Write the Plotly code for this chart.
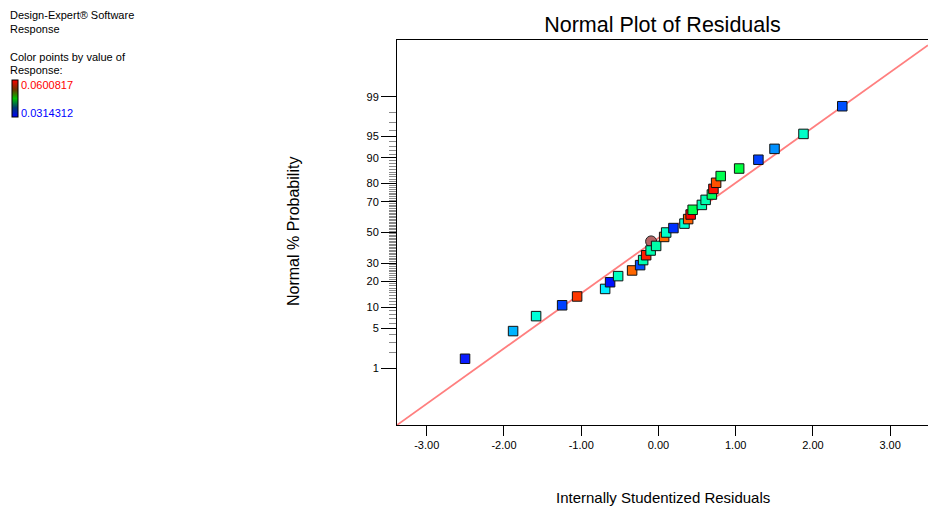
from statistics import NormalDist
import plotly.graph_objects as go

# ---------------- data ----------------
# internally studentized residuals, sorted
residuals = [-2.504, -1.882, -1.584, -1.247, -1.053, -0.690, -0.626, -0.522,
             -0.341, -0.237, -0.198, -0.159, -0.101, -0.030, -0.095, 0.074,
             0.100, 0.194, 0.337, 0.385, 0.417, 0.443, 0.562, 0.611,
             0.692, 0.712, 0.747, 0.806, 1.045, 1.294, 1.503, 1.878, 2.380]
# normal % probability of each residual
probability = [1.52, 4.55, 7.58, 10.61, 13.64, 16.67, 19.70, 22.73,
               25.76, 28.79, 31.82, 34.85, 37.88, 40.91, 43.94, 46.97,
               50.00, 53.03, 56.06, 59.09, 62.12, 65.15, 68.18, 71.21,
               74.24, 77.27, 80.30, 83.33, 86.36, 89.39, 92.42, 95.45, 98.48]
# colour of each point (coloured by value of Response)
point_colors = ["#0a1cff", "#00b4ff", "#00ffd8", "#0040ff", "#ff3800", "#00ecff",
                "#0010ff", "#00ffc0", "#ff6600", "#0050ff", "#00ffb0", "#ff2000",
                "#00ffb0", "#00ffa8", "#b46464", "#ff6a00", "#00ffc8", "#0030ff",
                "#00ffd0", "#ff6000", "#ff0000", "#00ff50", "#00ffb0", "#00ffb0",
                "#00ff60", "#ff1000", "#ff5000", "#00ff50", "#00ff40", "#0040ff",
                "#0090ff", "#00ffc8", "#0050ff"]
# the highlighted (selected) point is drawn as an ellipse
highlighted = [i == 14 for i in range(len(residuals))]

# reference line (residual, normal score)
line_x = [-3.385, 3.49]
line_z = [-3.30, 3.21]

# axis ticks
prob_major = [1, 5, 10, 20, 30, 50, 70, 80, 90, 95, 99]
prob_minor = [p for p in range(1, 100) if p not in prob_major]
x_ticks = [-3, -2, -1, 0, 1, 2, 3]
x_tick_labels = ["-3.00", "-2.00", "-1.00", "0.00", "1.00", "2.00", "3.00"]

resp_min, resp_max = 0.0314312, 0.0600817

# ---------------- figure ----------------
nd = NormalDist()
def z(p):
    return nd.inv_cdf(p / 100.0)

W, H = 928, 510
L, R, T, B = 397, 0, 40, 85
pw, ph = W - L - R, H - T - B

def px(xp):
    return (xp - L) / pw

def py(yp):
    return (H - B - yp) / ph

fig = go.Figure()

fig.add_trace(go.Scatter(x=line_x, y=line_z, mode="lines",
                         line=dict(color="#ff7f7f", width=1.8),
                         hoverinfo="skip", showlegend=False, cliponaxis=True))

hx = [x for x, h in zip(residuals, highlighted) if h]
hy = [z(p) for p, h in zip(probability, highlighted) if h]
hc = [c for c, h in zip(point_colors, highlighted) if h]
fig.add_trace(go.Scatter(x=hx, y=hy, mode="markers",
                         marker=dict(symbol="circle", size=11, color=hc,
                                     line=dict(color="#222222", width=1)),
                         showlegend=False, cliponaxis=False))

sx = [x for x, h in zip(residuals, highlighted) if not h]
sy = [z(p) for p, h in zip(probability, highlighted) if not h]
sc = [c for c, h in zip(point_colors, highlighted) if not h]
fig.add_trace(go.Scatter(x=sx, y=sy, mode="markers",
                         marker=dict(symbol="square", size=9.5, color=sc,
                                     line=dict(color="#111111", width=1)),
                         showlegend=False, cliponaxis=False))

# colour key
fig.add_trace(go.Scatter(
    x=[None], y=[None], mode="markers", showlegend=False, hoverinfo="skip",
    marker=dict(color=[resp_min], cmin=resp_min, cmax=resp_max,
                colorscale=[[0, "#0000ff"], [0.25, "#003a70"], [0.5, "#00c000"],
                            [0.75, "#703000"], [1, "#ff0000"]],
                showscale=True,
                colorbar=dict(x=px(12), xanchor="left", xref="paper",
                              y=py(98.5), yanchor="middle", yref="paper",
                              thickness=6, len=37, lenmode="pixels",
                              xpad=0, ypad=0, outlinewidth=1, outlinecolor="black",
                              showticklabels=False, ticks=""))))

font = "Arial, Liberation Sans, sans-serif"

fig.update_layout(
    width=W, height=H, autosize=False,
    margin=dict(l=L, r=R, t=T, b=B),
    paper_bgcolor="white", plot_bgcolor="white",
    font=dict(family=font, size=11, color="black"),
    title=dict(text="Normal Plot of Residuals", x=0.5, xref="paper",
               y=1 - 24 / H, yref="container", yanchor="middle",
               font=dict(size=21.5, family=font, color="black")),
    xaxis=dict(range=[line_x[0], line_x[1]], tickvals=x_ticks, ticktext=x_tick_labels,
               ticks="outside", ticklen=10, tickwidth=1, tickcolor="black",
               showline=True, linecolor="black", linewidth=1, mirror=True,
               showgrid=False, zeroline=False,
               tickfont=dict(size=11, family=font, color="black")),
    yaxis=dict(range=[-3.3, 3.3], tickvals=[z(p) for p in prob_major],
               ticktext=[str(p) for p in prob_major],
               ticks="outside", ticklen=15, tickwidth=1, tickcolor="black",
               minor=dict(tickmode="array", tickvals=[z(p) for p in prob_minor],
                          ticks="outside", ticklen=7, tickwidth=1,
                          tickcolor="#8a8a8a", showgrid=False),
               showline=True, linecolor="black", linewidth=1, mirror=False,
               showgrid=False, zeroline=False,
               tickfont=dict(size=11, family=font, color="black")),
)

ann = [
    ("Design-Expert® Software", 8, 15, "black"),
    ("Response", 8, 29, "black"),
    ("Color points by value of", 8, 57, "black"),
    ("Response:", 8, 70, "black"),
    ("0.0600817", 19, 85, "#ff0000"),
    ("0.0314312", 19, 113, "#0000ff"),
]
for text, xp, yp, col in ann:
    fig.add_annotation(text=text, x=px(xp), y=py(yp), xref="paper", yref="paper",
                       xanchor="left", yanchor="middle", showarrow=False,
                       font=dict(size=11, family=font, color=col))

fig.add_annotation(text="Internally Studentized Residuals", x=0.5, y=py(497),
                   xref="paper", yref="paper", xanchor="center", yanchor="middle",
                   showarrow=False, font=dict(size=15, family=font, color="black"))
fig.add_annotation(text="Normal % Probability", x=px(293), y=py(232),
                   xref="paper", yref="paper", xanchor="center", yanchor="middle",
                   textangle=-90, showarrow=False,
                   font=dict(size=16, family=font, color="black"))

fig.write_html("out.html", config={"responsive": False, "displayModeBar": False},
               post_script="document.body.style.margin='0px';"
                           "document.body.style.overflow='hidden';")
